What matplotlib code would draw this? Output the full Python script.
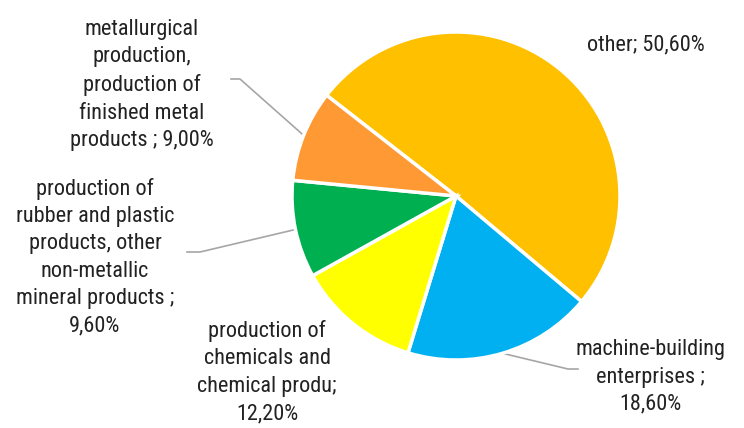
import numpy as np
import matplotlib
matplotlib.use("Agg")
import matplotlib.pyplot as plt
from matplotlib import font_manager

# Data (clockwise from the upper-left boundary)
categories = ["other", "machine-building enterprises", "production of chemicals and chemical produ",
              "production of rubber and plastic products, other non-metallic mineral products",
              "metallurgical production, production of finished metal products"]
values = [50.6, 18.6, 12.2, 9.6, 9.0]
labels = ["other; 50,60%",
          "machine-building\nenterprises ;\n18,60%",
          "production of\nchemicals and\nchemical produ;\n12,20%",
          "production of\nrubber and plastic\nproducts, other\nnon-metallic\nmineral products ;\n9,60%",
          "metallurgical\nproduction,\nproduction of\nfinished metal\nproducts ; 9,00%"]
colors = ["#FFC000", "#00B0F0", "#FFFF00", "#00B050", "#FF9933"]

W, H = 744, 428
names = {f.name for f in font_manager.fontManager.ttflist}
font = "Roboto Condensed" if "Roboto Condensed" in names else "Liberation Sans"

fig = plt.figure(figsize=(W / 100, H / 100), dpi=100)
ax = fig.add_axes([0, 0, 1, 1])

cx, cy, r = 456, H - 196, 164
wedges, _ = ax.pie(values, colors=colors, startangle=142.1, counterclock=False,
                   center=(cx, cy), radius=r, frame=True,
                   wedgeprops=dict(edgecolor="white", linewidth=2.5))
ax.set_xlim(0, W)
ax.set_ylim(0, H)
ax.set_aspect("equal")
ax.axis("off")

# label text centres (pixel coords, top origin) and optional leader elbows
text_pos = [(646, 45), (650, 377), (267, 372), (95, 257), (142, 85)]
elbows = [None, [(568, 369), (578, 369)], None, [(200, 252), (187, 252)], [(240, 79), (231, 79)]]

for w, lab, (tx, ty), elb in zip(wedges, labels, text_pos, elbows):
    ax.text(tx, H - ty, lab, ha="center", va="center", fontsize=16,
            family=font, color="#222222", linespacing=1.4, multialignment="center")
    if elb:
        mid = np.deg2rad((w.theta1 + w.theta2) / 2)
        xs = [cx + r * np.cos(mid)] + [p[0] for p in elb]
        ys = [cy + r * np.sin(mid)] + [H - p[1] for p in elb]
        ax.plot(xs, ys, color="#A6A6A6", linewidth=1.2, zorder=0.5)

fig.savefig("out.png", dpi=100)
